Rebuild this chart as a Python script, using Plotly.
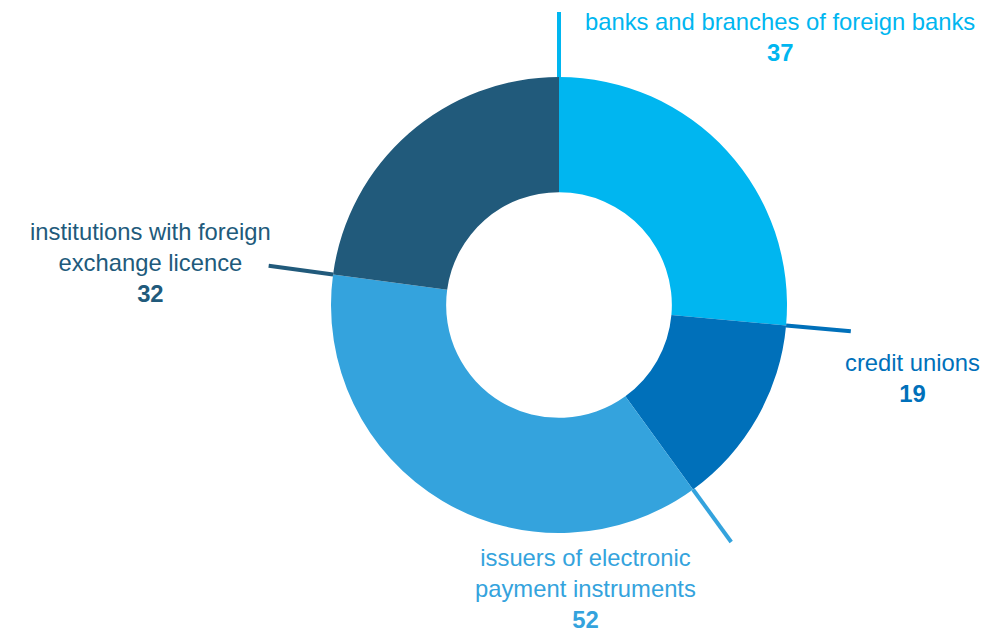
import math
import plotly.graph_objects as go

# Data
categories = [
    "banks and branches of foreign banks",
    "credit unions",
    "issuers of electronic payment instruments",
    "institutions with foreign exchange licence",
]
values = [37, 19, 52, 32]
label_lines = [
    ["banks and branches of foreign banks"],
    ["credit unions"],
    ["issuers of electronic", "payment instruments"],
    ["institutions with foreign", "exchange licence"],
]

# Styling / layout
colors = ["#00B6F0", "#0070BA", "#34A3DD", "#215A7B"]
W, H = 992, 636
cx, cy, R = 559, 305, 228          # pie centre and outer radius in pixels
hole = 0.495
leader_out = 1.285                 # leader line end, as a multiple of R
label_pos = [(780, 37), (912, 378), (585, 588), (150, 262)]  # label block centres (px)
font_family = "Liberation Sans, Arial, Helvetica, sans-serif"
font_size = 23.8

def px_to_paper(x, y):
    return x / W, 1 - y / H

fig = go.Figure(go.Pie(
    labels=categories,
    values=values,
    sort=False,
    direction="clockwise",
    rotation=0,
    hole=hole,
    marker=dict(colors=colors, line=dict(width=0)),
    textinfo="none",
    hoverinfo="label+value",
    showlegend=False,
    domain=dict(x=[(cx - R) / W, (cx + R) / W],
                y=[(H - cy - R) / H, (H - cy + R) / H]),
))

# Leader lines drawn at the starting edge of each slice
total = sum(values)
cum = 0
shapes = []
annotations = []
for i, v in enumerate(values):
    ang = cum / total * 2 * math.pi     # clockwise from 12 o'clock
    dx, dy = math.sin(ang), -math.cos(ang)
    x0, y0 = px_to_paper(cx + R * dx, cy + R * dy)
    x1, y1 = px_to_paper(cx + R * leader_out * dx, cy + R * leader_out * dy)
    shapes.append(dict(type="line", xref="paper", yref="paper",
                       x0=x0, y0=y0, x1=x1, y1=y1,
                       line=dict(color=colors[i], width=4)))
    cum += v

    lx, ly = px_to_paper(*label_pos[i])
    text = "<br>".join(label_lines[i]) + f"<br><b>{v}</b>"
    annotations.append(dict(x=lx, y=ly, xref="paper", yref="paper",
                            text=text, showarrow=False,
                            xanchor="center", yanchor="middle", align="center",
                            font=dict(family=font_family, size=font_size,
                                      color=colors[i])))

fig.update_layout(
    width=W, height=H,
    margin=dict(l=0, r=0, t=0, b=0),
    paper_bgcolor="white",
    plot_bgcolor="white",
    shapes=shapes,
    annotations=annotations,
)

fig.write_html("out.html")
